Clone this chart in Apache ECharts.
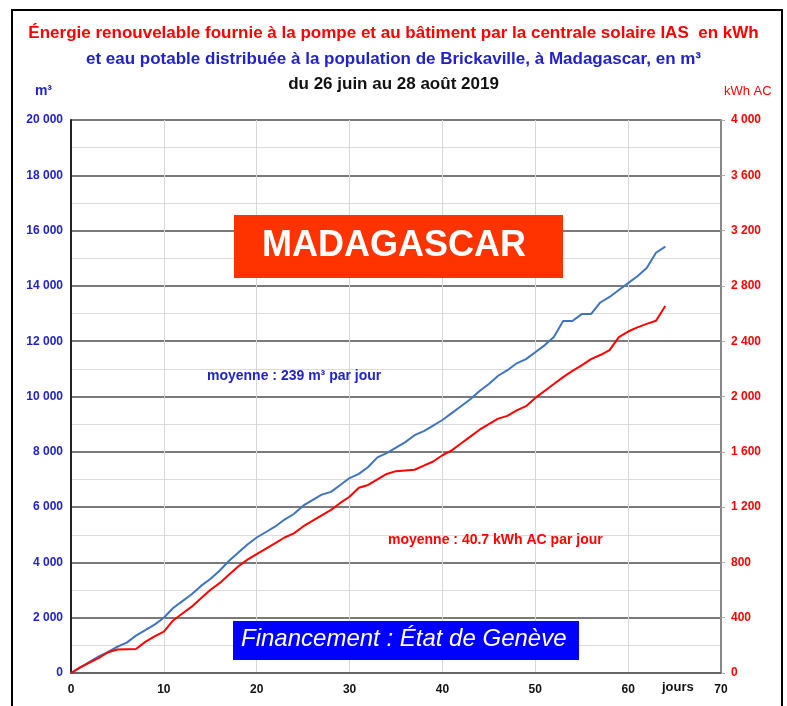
<!DOCTYPE html>
<html>
<head>
<meta charset="utf-8">
<script src="https://cdn.jsdelivr.net/npm/echarts@6/dist/echarts.min.js"></script>
<style>
html,body{margin:0;padding:0;background:#fff;}
#chart{width:787px;height:706px;}
</style>
</head>
<body>
<div id="chart"></div>
<script>
// Days since 26 June 2019
var days = [0,1,2,3,4,5,6,7,8,9,10,11,12,13,14,15,16,17,18,19,20,21,22,23,24,25,26,27,28,29,30,31,32,33,34,35,36,37,38,39,40,41,42,43,44,45,46,47,48,49,50,51,52,53,54,55,56,57,58,59,60,61,62,63,64];
// Cumulative drinking water distributed (m³)
var waterM3 = [0,200,400,600,760,950,1100,1350,1550,1750,2000,2350,2600,2850,3150,3400,3700,4050,4350,4650,4900,5100,5300,5550,5750,6050,6250,6450,6550,6800,7050,7200,7450,7800,7950,8150,8350,8600,8750,8950,9150,9400,9650,9900,10200,10450,10750,10950,11200,11350,11600,11850,12150,12730,12730,12980,12980,13400,13600,13850,14100,14350,14650,15200,15420];
// Cumulative renewable energy (kWh AC)
var energyKWh = [0,40,75,110,150,170,172,174,225,265,300,380,430,480,540,600,650,710,770,820,860,900,940,980,1010,1060,1100,1140,1180,1230,1275,1340,1360,1400,1440,1460,1465,1470,1500,1530,1575,1610,1660,1710,1760,1800,1840,1860,1900,1930,1990,2040,2090,2140,2185,2225,2270,2300,2336,2430,2470,2500,2525,2548,2655];
var titleLines = [
  "Énergie renouvelable fournie à la pompe et au bâtiment par la centrale solaire IAS  en kWh",
  "et eau potable distribuée à la population de Brickaville, à Madagascar, en m³",
  "du 26 juin au 28 août 2019"
];
var waterNote = "moyenne : 239 m³ par jour";
var energyNote = "moyenne : 40.7 kWh AC par jour";

function fmt(v){ return String(v).replace(/\B(?=(\d{3})+(?!\d))/g, ' '); }
function pairs(xs, ys){ return xs.map(function(x,i){ return [x, ys[i]]; }); }

var FONT = 'Liberation Sans, Arial, sans-serif';
var chart = echarts.init(document.getElementById('chart'));
chart.setOption({
  animation:false,
  backgroundColor:'#fff',
  title:[
    {text:titleLines[0], left:'center', top:20, textStyle:{color:'#ff0000', fontSize:17, fontWeight:'bold', fontFamily:FONT}},
    {text:titleLines[1], left:'center', top:46, textStyle:{color:'#2222cc', fontSize:17, fontWeight:'bold', fontFamily:FONT}},
    {text:titleLines[2], left:'center', top:71, textStyle:{color:'#111', fontSize:17, fontWeight:'bold', fontFamily:FONT}}
  ],
  grid:{left:71, right:66, top:120, bottom:33, show:false},
  xAxis:{
    type:'value', min:0, max:70, interval:10,
    axisLine:{show:true, lineStyle:{color:'#666', width:2}},
    axisTick:{show:false},
    axisLabel:{color:'#111', fontWeight:'bold', fontSize:12, fontFamily:FONT, margin:11},
    splitLine:{show:true, lineStyle:{color:'#d8d8d8', width:1}}
  },
  yAxis:[
    {
      type:'value', min:0, max:20000, interval:2000, position:'left',
      name:'m³', nameLocation:'end', nameGap:22,
      nameTextStyle:{color:'#2222cc', fontWeight:'bold', fontSize:14, fontFamily:FONT, align:'right', padding:[0,19,0,0]},
      axisLine:{show:true, lineStyle:{color:'#222', width:2}},
      axisTick:{show:false},
      axisLabel:{color:'#2222cc', fontWeight:'bold', fontSize:12, fontFamily:FONT, margin:8, formatter:fmt},
      splitLine:{show:true, lineStyle:{color:'#7a7a7a', width:2}},
      minorTick:{show:false, splitNumber:2},
      minorSplitLine:{show:true, lineStyle:{color:'#dcdcdc', width:1}}
    },
    {
      type:'value', min:0, max:4000, interval:400, position:'right',
      name:'kWh AC', nameLocation:'end', nameGap:22,
      nameTextStyle:{color:'#ff0000', fontSize:13, fontFamily:FONT, align:'left', padding:[0,0,0,3]},
      axisLine:{show:true, lineStyle:{color:'#888', width:2}},
      axisTick:{show:true, length:4, lineStyle:{color:'#aaa'}},
      axisLabel:{color:'#ff0000', fontWeight:'bold', fontSize:12, fontFamily:FONT, margin:10, formatter:fmt},
      splitLine:{show:false}
    }
  ],
  series:[
    {type:'line', name:'eau', yAxisIndex:0, data:pairs(days, waterM3), showSymbol:false, lineStyle:{color:'#3f74bf', width:2}, itemStyle:{color:'#3f74bf'}, z:3},
    {type:'line', name:'energie', yAxisIndex:1, data:pairs(days, energyKWh), showSymbol:false, lineStyle:{color:'#ff0000', width:2}, itemStyle:{color:'#ff0000'}, z:4}
  ],
  graphic:[
    {type:'rect', shape:{x:12, y:10, width:770, height:710}, style:{fill:'none', stroke:'#000', lineWidth:2}, z:-1},
    {type:'rect', shape:{x:234, y:215, width:329, height:63}, style:{fill:'#ff3300'}, z:10},
    {type:'text', left:262, top:228, style:{text:'MADAGASCAR', fill:'#fff', font:'bold 36px Liberation Sans, Arial, sans-serif'}, z:11},
    {type:'rect', shape:{x:233, y:621, width:346, height:39}, style:{fill:'#0000ff'}, z:10},
    {type:'text', left:241, top:627, style:{text:'Financement : État de Genève', fill:'#fff', font:'italic 24px Liberation Sans, Arial, sans-serif'}, z:11},
    {type:'text', left:207, top:369, style:{text:waterNote, fill:'#2222cc', font:'bold 14px Liberation Sans, Arial, sans-serif'}, z:11},
    {type:'text', left:388, top:533, style:{text:energyNote, fill:'#ff0000', font:'bold 14px Liberation Sans, Arial, sans-serif'}, z:11},
    {type:'text', left:662, top:681, style:{text:'jours', fill:'#111', font:'bold 13px Liberation Sans, Arial, sans-serif'}, z:11}
  ]
});
</script>
</body>
</html>
